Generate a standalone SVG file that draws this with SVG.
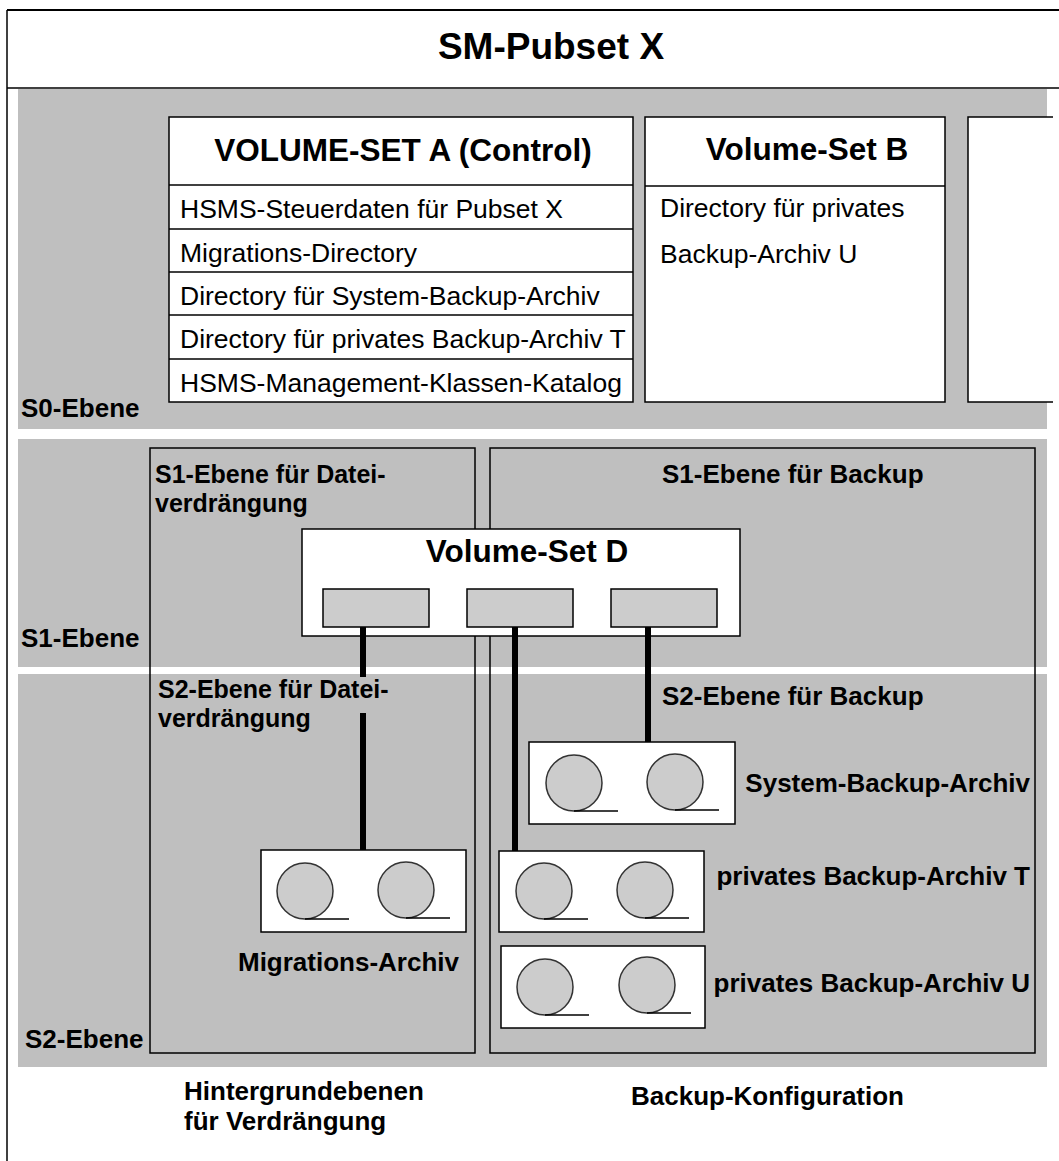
<svg xmlns="http://www.w3.org/2000/svg" width="1059" height="1161" viewBox="0 0 1059 1161">
<style>
text{font-family:"Liberation Sans",Arial,Helvetica,sans-serif;fill:#000}
.b{font-weight:bold;font-size:26px}
.b2{font-weight:bold;font-size:25px}
.h{font-weight:bold;font-size:31.5px}
.r{font-size:26.5px}
.band{fill:#bfbfbf}
.box{fill:#fff;stroke:#000;stroke-width:1.5}
.frame{fill:none;stroke:#000;stroke-width:1.5}
.slot{fill:#cccccc;stroke:#000;stroke-width:1.5}
.reel{fill:#cccccc;stroke:#333;stroke-width:1.5}
.tail{stroke:#000;stroke-width:1.3;fill:none}
.conn{stroke:#000;stroke-width:6;fill:none}
</style>
<defs>
<g id="reel"><circle class="reel" cx="0" cy="0" r="28"/><line class="tail" x1="0" y1="28" x2="44" y2="28"/></g>
</defs>
<rect width="1059" height="1161" fill="#fff"/>
<!-- outer frame -->
<g id="pubset">
<line x1="7" y1="10" x2="1059" y2="10" stroke="#000" stroke-width="2"/>
<line x1="7" y1="88" x2="1059" y2="88" stroke="#000" stroke-width="1.5"/>
<line x1="7" y1="10" x2="7" y2="1161" stroke="#000" stroke-width="1.5"/>
<text x="551" y="59" text-anchor="middle" style="font-weight:bold;font-size:37px">SM-Pubset X</text>
</g>
<!-- bands -->
<g id="bands">
<rect class="band" x="18" y="89" width="1029" height="340"/>
<rect class="band" x="18" y="439" width="1029" height="228"/>
<rect class="band" x="18" y="674" width="1029" height="393"/>
<text class="b" x="21" y="417">S0-Ebene</text>
<text class="b" x="21" y="647">S1-Ebene</text>
<text class="b" x="25" y="1048">S2-Ebene</text>
</g>
<!-- Volume-Set A -->
<g id="vsA">
<rect class="box" x="169" y="117" width="464" height="285"/>
<line class="frame" x1="169" y1="185" x2="633" y2="185"/>
<line class="frame" x1="169" y1="229" x2="633" y2="229"/>
<line class="frame" x1="169" y1="272" x2="633" y2="272"/>
<line class="frame" x1="169" y1="315" x2="633" y2="315"/>
<line class="frame" x1="169" y1="359" x2="633" y2="359"/>
<text class="h" x="403" y="161" text-anchor="middle">VOLUME-SET A (Control)</text>
<text class="r" x="180" y="218">HSMS-Steuerdaten für Pubset X</text>
<text class="r" x="180" y="262">Migrations-Directory</text>
<text class="r" x="180" y="305">Directory für System-Backup-Archiv</text>
<text class="r" x="180" y="348">Directory für privates Backup-Archiv T</text>
<text class="r" x="180" y="392">HSMS-Management-Klassen-Katalog</text>
</g>
<!-- Volume-Set B -->
<g id="vsB">
<rect class="box" x="645" y="117" width="300" height="285"/>
<line class="frame" x1="645" y1="186" x2="945" y2="186"/>
<text class="h" x="807" y="160" text-anchor="middle">Volume-Set B</text>
<text class="r" x="660" y="217">Directory für privates</text>
<text class="r" x="660" y="263">Backup-Archiv U</text>
</g>
<!-- partial third volume set -->
<g id="vsC">
<rect x="968" y="117" width="85" height="285" fill="#fff"/>
<path class="frame" d="M1053,117 H968 V402 H1053"/>
</g>
<!-- migration area -->
<g id="migArea">
<rect class="frame" x="150" y="448" width="325" height="605"/>
<text class="b2" x="155" y="483">S1-Ebene für Datei-<tspan x="155" dy="29">verdrängung</tspan></text>
<text class="b2" x="158" y="698">S2-Ebene für Datei-<tspan x="158" dy="29">verdrängung</tspan></text>
</g>
<!-- backup area -->
<g id="backupArea">
<rect class="frame" x="490" y="448" width="545" height="605"/>
<text class="b" x="662" y="483">S1-Ebene für Backup</text>
<text class="b" x="662" y="705">S2-Ebene für Backup</text>
</g>
<!-- Volume-Set D -->
<g id="vsD">
<rect class="box" x="302" y="529" width="438" height="107"/>
<text class="h" x="527" y="562" text-anchor="middle">Volume-Set D</text>
<rect class="slot" x="323" y="589" width="106" height="38"/>
<rect class="slot" x="467" y="589" width="106" height="38"/>
<rect class="slot" x="611" y="589" width="106" height="38"/>
</g>
<!-- connectors -->
<g id="connectors">
<line class="conn" x1="363" y1="627" x2="363" y2="677"/>
<line class="conn" x1="363" y1="713" x2="363" y2="851"/>
<line class="conn" x1="515" y1="627" x2="515" y2="852"/>
<line class="conn" x1="648" y1="627" x2="648" y2="743"/>
</g>
<!-- archives -->
<g id="migArchiv">
<rect class="box" x="261" y="850" width="205" height="82"/>
<use href="#reel" x="305" y="891"/>
<use href="#reel" x="406" y="890"/>
<text class="b" x="459" y="971" text-anchor="end">Migrations-Archiv</text>
</g>
<g id="sysArchiv">
<rect class="box" x="529" y="742" width="206" height="82"/>
<use href="#reel" x="574" y="783"/>
<use href="#reel" x="675" y="782"/>
<text class="b" x="1030" y="792" text-anchor="end">System-Backup-Archiv</text>
</g>
<g id="archivT">
<rect class="box" x="499" y="851" width="205" height="81"/>
<use href="#reel" x="544" y="891"/>
<use href="#reel" x="645" y="890"/>
<text class="b" x="1030" y="885" text-anchor="end">privates Backup-Archiv T</text>
</g>
<g id="archivU">
<rect class="box" x="501" y="946" width="204" height="82"/>
<use href="#reel" x="545" y="987"/>
<use href="#reel" x="647" y="985"/>
<text class="b" x="1030" y="992" text-anchor="end">privates Backup-Archiv U</text>
</g>
<!-- captions -->
<g id="captions">
<text class="b" x="184" y="1100">Hintergrundebenen<tspan x="184" dy="30">für Verdrängung</tspan></text>
<text class="b" x="631" y="1105">Backup-Konfiguration</text>
</g>
</svg>
